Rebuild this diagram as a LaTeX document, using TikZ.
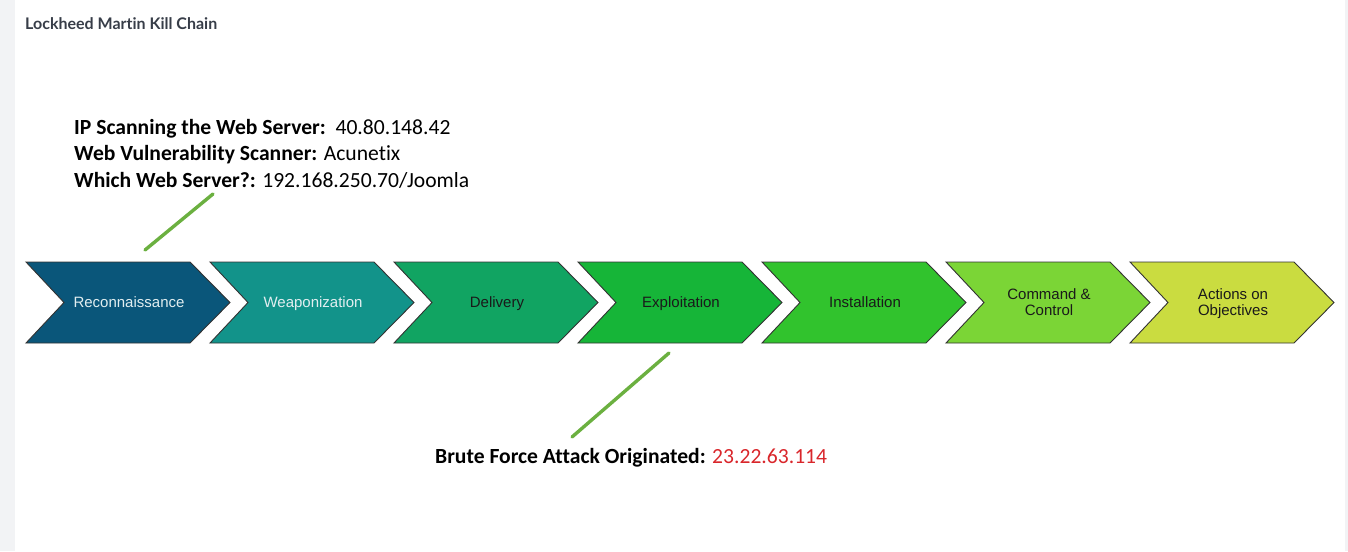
\documentclass[tikz,border=0pt]{standalone}
\usepackage{fontspec}
\setmainfont{Liberation Sans}
\newfontfamily\calfont[Ligatures=NoCommon]{Carlito}
\newfontfamily\titlefont[Ligatures=NoCommon]{Lato}
\usetikzlibrary{calc}
\definecolor{bgstrip}{HTML}{F2F3F5}
\definecolor{titlecol}{HTML}{373D48}
\definecolor{cA}{HTML}{0A567A}
\definecolor{cB}{HTML}{12938A}
\definecolor{cC}{HTML}{11A462}
\definecolor{cD}{HTML}{16B538}
\definecolor{cE}{HTML}{31C32D}
\definecolor{cF}{HTML}{7BD536}
\definecolor{cG}{HTML}{CADC40}
\definecolor{leader}{HTML}{6BB040}
\definecolor{ipred}{HTML}{D9262B}
\definecolor{lighttext}{HTML}{E2EEF0}
\definecolor{darktext}{HTML}{1A1A1A}
\tikzset{
  chevron/.style={draw=black!80, line width=0.9pt, line join=miter},
  stagelabel/.style={font=\fontsize{15}{16}\selectfont, align=center, inner sep=0pt, text height=11pt, text depth=3pt},
  leaderline/.style={draw=leader, line width=3.4pt, line cap=round},
  annot/.style={font=\calfont\fontsize{21.6}{26}\selectfont, anchor=base west, inner sep=0pt},
}
\begin{document}
\begin{tikzpicture}[x=1pt,y=-1pt]
\useasboundingbox (0,0) rectangle (1348,551);
\fill[bgstrip] (0,0) rectangle (15,551);
\fill[bgstrip] (1345,0) rectangle (1348,551);
\node[font=\titlefont\bfseries\fontsize{16}{18}\selectfont, text=titlecol, anchor=base west, inner sep=0pt] (title) at (25,30) {Lockheed Martin Kill Chain};
% chevrons
\foreach \i/\x/\col/\txt/\tcol/\ty in {1/26/cA/Reconnaissance/lighttext/303.5, 2/210/cB/Weaponization/lighttext/303.5, 3/394/cC/Delivery/darktext/303.5, 4/578/cD/Exploitation/darktext/303.5, 5/762/cE/Installation/darktext/303.5, 6/946/cF/{Command \&\\Control}/darktext/311.5, 7/1130/cG/{Actions on\\Objectives}/darktext/311.5}{
  \draw[chevron, fill=\col] (\x,262) -- ++(164,0) -- ++(40,40.5) -- ++(-40,40.5) -- ++(-164,0) -- ++(38,-40.5) -- cycle;
  \node[stagelabel, text=\tcol] (s\i) at (\x+103,\ty) {\txt};
}
% annotations
\node[annot] (a1) at (74,134) {\textbf{IP Scanning the Web Server:}\ \ 40.80.148.42};
\node[annot] (a2) at (74,160.5) {\textbf{Web Vulnerability Scanner:} Acunetix};
\node[annot] (a3) at (74,187) {\textbf{Which Web Server?:} 192.168.250.70/Joomla};
\node[annot] (b1) at (435,463) {\textbf{Brute Force Attack Originated:} \textcolor{ipred}{23.22.63.114}};
% leader lines
\coordinate (l1a) at (145,250);
\coordinate (l1b) at (213,194);
\coordinate (l2a) at (669,353);
\coordinate (l2b) at (572,437);
\draw[leaderline] (l1a) -- (l1b);
\draw[leaderline] (l2a) -- (l2b);
\end{tikzpicture}
\end{document}
